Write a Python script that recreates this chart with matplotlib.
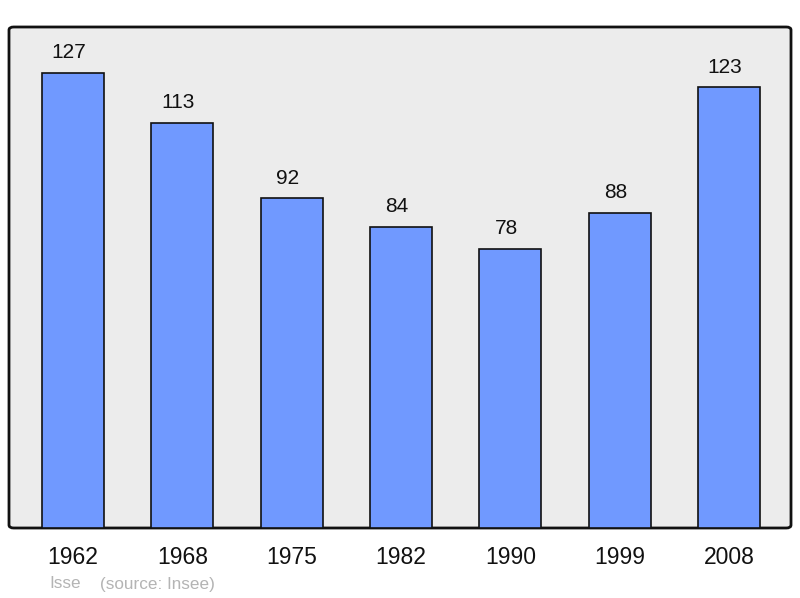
import matplotlib
matplotlib.use("Agg")
import matplotlib.pyplot as plt
from matplotlib.patches import FancyBboxPatch

annees = ["1962", "1968", "1975", "1982", "1990", "1999", "2008"]
population = [127, 113, 92, 84, 78, 88, 123]
commune = "Isse"
source = "(source: Insee)"

W, H = 800, 598
fig = plt.figure(figsize=(W / 100, H / 100), dpi=100)
plt.rcParams['font.family'] = ['Liberation Sans', 'DejaVu Sans']

# zone du graphique en pixels
x0, x1, y0, y1 = 9, 791, 27, 528
ax = fig.add_axes([x0 / W, (H - y1) / H, (x1 - x0) / W, (y1 - y0) / H])
ax.set_facecolor('none')

fond = FancyBboxPatch((0, 0), 1, 1, boxstyle="round,pad=0,rounding_size=0.006",
                      transform=ax.transAxes, facecolor='#ececec', edgecolor='#111111',
                      linewidth=2, zorder=0, clip_on=False)
ax.add_patch(fond)

pas = 109.33
gauche = -(73 - x0) / pas
droite = (x1 - 73) / pas
ax.set_xlim(gauche, droite)
ax.set_ylim(0, (y1 - y0) / 3.583)

pos = list(range(len(annees)))
barres = ax.bar(pos, population, width=62 / pas, color='#7099ff',
                edgecolor='#111111', linewidth=1.2, zorder=2)

for p, v in zip(pos, population):
    ax.annotate(str(v), (p, v), xytext=(-3, 14.5), textcoords='offset points',
                ha='center', va='center', fontsize=15, color='#111111')

ax.set_xticks(pos)
ax.set_xticklabels(annees, fontsize=16.5, color='#111111')
ax.tick_params(axis='x', length=0, pad=13)
ax.set_yticks([])
for s in ax.spines.values():
    s.set_visible(False)

fig.text(49 / W, 1 - 584 / H, commune, fontsize=12.3, color='#b4b4b4', va='center')
fig.text(100 / W, 1 - 584 / H, source, fontsize=12.3, color='#b4b4b4', va='center')

fig.savefig('out.png', dpi=100)
